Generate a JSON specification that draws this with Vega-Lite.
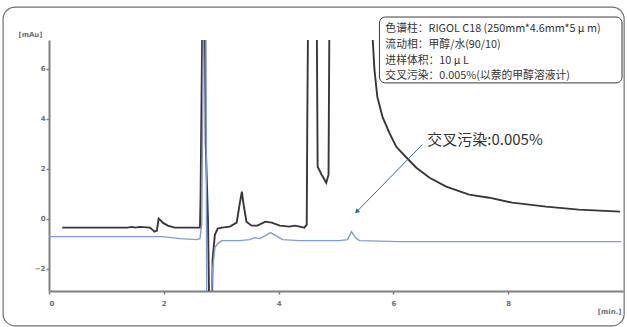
{
  "$schema": "https://vega.github.io/schema/vega-lite/v6.json",
  "width": 574,
  "height": 251,
  "autosize": {"type": "none"},
  "padding": {"left": 49, "top": 40, "right": 4, "bottom": 36},
  "background": "white",
  "config": {
    "view": {"stroke": null},
    "font": "Noto Sans CJK SC",
    "axis": {
      "grid": false,
      "domainColor": "#808080",
      "domainWidth": 2,
      "tickColor": "#808080",
      "tickWidth": 1.5,
      "tickSize": 3,
      "labelFont": "DejaVu Sans",
      "labelFontSize": 7,
      "labelFontWeight": "bold",
      "labelColor": "#707070",
      "titleFont": "DejaVu Sans",
      "titleFontSize": 7,
      "titleFontWeight": "bold",
      "titleColor": "#707070"
    }
  },
  "datasets": {
    "curves": [
      {"t": 0.23, "v": -0.36, "s": "sample"},
      {"t": 1.36, "v": -0.36, "s": "sample"},
      {"t": 1.45, "v": -0.33, "s": "sample"},
      {"t": 1.5, "v": -0.36, "s": "sample"},
      {"t": 1.58, "v": -0.33, "s": "sample"},
      {"t": 1.76, "v": -0.36, "s": "sample"},
      {"t": 1.84, "v": -0.52, "s": "sample"},
      {"t": 1.88, "v": -0.48, "s": "sample"},
      {"t": 1.91, "v": 0.0, "s": "sample"},
      {"t": 1.95, "v": -0.08, "s": "sample"},
      {"t": 1.98, "v": -0.16, "s": "sample"},
      {"t": 2.07, "v": -0.28, "s": "sample"},
      {"t": 2.19, "v": -0.36, "s": "sample"},
      {"t": 2.63, "v": -0.36, "s": "sample"},
      {"t": 2.64, "v": 0.76, "s": "sample"},
      {"t": 2.68, "v": 10, "s": "sample"},
      {"t": 2.71, "v": 10, "s": "sample"},
      {"t": 2.73, "v": 3.0, "s": "sample"},
      {"t": 2.77, "v": -0.05, "s": "sample"},
      {"t": 2.8, "v": -5, "s": "sample"},
      {"t": 2.83, "v": -5, "s": "sample"},
      {"t": 2.85, "v": -1.64, "s": "sample"},
      {"t": 2.89, "v": -0.64, "s": "sample"},
      {"t": 2.94, "v": -0.4, "s": "sample"},
      {"t": 3.01, "v": -0.36, "s": "sample"},
      {"t": 3.15, "v": -0.32, "s": "sample"},
      {"t": 3.27, "v": -0.16, "s": "sample"},
      {"t": 3.32, "v": 0.56, "s": "sample"},
      {"t": 3.36, "v": 1.08, "s": "sample"},
      {"t": 3.39, "v": 0.56, "s": "sample"},
      {"t": 3.44, "v": -0.12, "s": "sample"},
      {"t": 3.53, "v": -0.28, "s": "sample"},
      {"t": 3.63, "v": -0.28, "s": "sample"},
      {"t": 3.77, "v": -0.12, "s": "sample"},
      {"t": 3.88, "v": -0.16, "s": "sample"},
      {"t": 4.02, "v": -0.28, "s": "sample"},
      {"t": 4.19, "v": -0.32, "s": "sample"},
      {"t": 4.28, "v": -0.28, "s": "sample"},
      {"t": 4.37, "v": -0.32, "s": "sample"},
      {"t": 4.45, "v": -0.36, "s": "sample"},
      {"t": 4.49, "v": -0.24, "s": "sample"},
      {"t": 4.5, "v": 4, "s": "sample"},
      {"t": 4.52, "v": 10, "s": "sample"},
      {"t": 4.66, "v": 10, "s": "sample"},
      {"t": 4.68, "v": 2.08, "s": "sample"},
      {"t": 4.75, "v": 1.76, "s": "sample"},
      {"t": 4.83, "v": 1.44, "s": "sample"},
      {"t": 4.87, "v": 1.76, "s": "sample"},
      {"t": 4.89, "v": 10, "s": "sample"},
      {"t": 5.6, "v": 10, "s": "sample"},
      {"t": 5.64, "v": 7.16, "s": "sample"},
      {"t": 5.67, "v": 5.96, "s": "sample"},
      {"t": 5.72, "v": 4.88, "s": "sample"},
      {"t": 5.81, "v": 4.08, "s": "sample"},
      {"t": 5.93, "v": 3.44, "s": "sample"},
      {"t": 6.05, "v": 2.88, "s": "sample"},
      {"t": 6.23, "v": 2.44, "s": "sample"},
      {"t": 6.4, "v": 2.04, "s": "sample"},
      {"t": 6.63, "v": 1.64, "s": "sample"},
      {"t": 6.92, "v": 1.28, "s": "sample"},
      {"t": 7.32, "v": 0.96, "s": "sample"},
      {"t": 7.67, "v": 0.84, "s": "sample"},
      {"t": 8.07, "v": 0.64, "s": "sample"},
      {"t": 8.66, "v": 0.48, "s": "sample"},
      {"t": 9.23, "v": 0.36, "s": "sample"},
      {"t": 9.95, "v": 0.28, "s": "sample"},
      {"t": 0.0, "v": -0.72, "s": "blank"},
      {"t": 1.98, "v": -0.72, "s": "blank"},
      {"t": 2.28, "v": -0.8, "s": "blank"},
      {"t": 2.57, "v": -0.84, "s": "blank"},
      {"t": 2.63, "v": -0.8, "s": "blank"},
      {"t": 2.66, "v": -0.24, "s": "blank"},
      {"t": 2.7, "v": 10, "s": "blank"},
      {"t": 2.73, "v": 10, "s": "blank"},
      {"t": 2.75, "v": -5, "s": "blank"},
      {"t": 2.8, "v": -5, "s": "blank"},
      {"t": 2.85, "v": -2.04, "s": "blank"},
      {"t": 2.89, "v": -1.16, "s": "blank"},
      {"t": 2.94, "v": -1.0, "s": "blank"},
      {"t": 3.01, "v": -0.88, "s": "blank"},
      {"t": 3.32, "v": -0.88, "s": "blank"},
      {"t": 3.5, "v": -0.84, "s": "blank"},
      {"t": 3.58, "v": -0.76, "s": "blank"},
      {"t": 3.67, "v": -0.8, "s": "blank"},
      {"t": 3.77, "v": -0.68, "s": "blank"},
      {"t": 3.86, "v": -0.56, "s": "blank"},
      {"t": 3.95, "v": -0.68, "s": "blank"},
      {"t": 4.07, "v": -0.84, "s": "blank"},
      {"t": 4.37, "v": -0.88, "s": "blank"},
      {"t": 5.06, "v": -0.88, "s": "blank"},
      {"t": 5.2, "v": -0.84, "s": "blank"},
      {"t": 5.27, "v": -0.52, "s": "blank"},
      {"t": 5.34, "v": -0.76, "s": "blank"},
      {"t": 5.41, "v": -0.88, "s": "blank"},
      {"t": 6.1, "v": -0.92, "s": "blank"},
      {"t": 9.97, "v": -0.92, "s": "blank"}
    ],
    "frame": [{"x1": -0.8, "x2": 10.02, "y1": 8.48, "y2": -4.3}],
    "box": [{"x1": 5.757, "x2": 9.983, "y1": 8.08, "y2": 5.44}],
    "boxtext": [
      {"tx": 5.86, "ty": 7.6, "label": "色谱柱：RIGOL C18 (250mm*4.6mm*5 μ m)"},
      {"tx": 5.86, "ty": 6.96, "label": "流动相：甲醇/水(90/10)"},
      {"tx": 5.86, "ty": 6.32, "label": "进样体积：10  μ L"},
      {"tx": 5.86, "ty": 5.72, "label": "交叉污染：0.005%(以萘的甲醇溶液计)"}
    ],
    "note": [{"tx": 6.59, "ty": 3.16, "label": "交叉污染:0.005%"}],
    "arrow": [{"ax": 6.5, "ay": 2.96, "bx": 5.37, "by": 0.3}]
  },
  "layer": [
    {
      "data": {"name": "frame"},
      "mark": {"type": "rect", "clip": false, "fill": null, "stroke": "#6e6e6e", "strokeWidth": 1.2, "cornerRadius": 12},
      "encoding": {
        "x": {"field": "x1", "type": "quantitative", "scale": {"domain": [0, 10], "nice": false, "zero": false}, "axis": {"values": [0, 2, 4, 6, 8], "format": "d", "title": "[min.]", "titleX": 572, "titleY": 16, "titleAlign": "right", "labelPadding": 5}},
        "x2": {"field": "x2"},
        "y": {"field": "y1", "type": "quantitative", "scale": {"domain": [-2.9, 7.16], "nice": false, "zero": false}, "axis": {"values": [-2, 0, 2, 4, 6], "format": "d", "title": "[mAu]", "titleAngle": 0, "titleX": -19, "titleY": -3, "titleAlign": "center", "labelPadding": 1}},
        "y2": {"field": "y2"}
      }
    },
    {
      "data": {"name": "curves"},
      "mark": {"type": "line", "clip": true, "interpolate": "linear"},
      "encoding": {
        "x": {"field": "t", "type": "quantitative"},
        "y": {"field": "v", "type": "quantitative"},
        "detail": {"field": "s"},
        "color": {"field": "s", "type": "nominal", "scale": {"domain": ["blank", "sample"], "range": ["#7f9bd9", "#3a3636"]}, "legend": null},
        "strokeWidth": {"field": "s", "type": "nominal", "scale": {"domain": ["blank", "sample"], "range": [1.4, 1.9]}, "legend": null},
        "order": {"field": "t", "type": "quantitative"}
      }
    },
    {
      "data": {"name": "box"},
      "mark": {"type": "rect", "clip": false, "fill": "white", "stroke": "#3a3a3a", "strokeWidth": 1, "cornerRadius": 6},
      "encoding": {
        "x": {"field": "x1", "type": "quantitative"},
        "x2": {"field": "x2"},
        "y": {"field": "y1", "type": "quantitative"},
        "y2": {"field": "y2"}
      }
    },
    {
      "data": {"name": "boxtext"},
      "mark": {"type": "text", "clip": false, "align": "left", "baseline": "middle", "fontSize": 10.8, "color": "#333333"},
      "encoding": {
        "x": {"field": "tx", "type": "quantitative"},
        "y": {"field": "ty", "type": "quantitative"},
        "text": {"field": "label"}
      }
    },
    {
      "data": {"name": "note"},
      "mark": {"type": "text", "clip": false, "align": "left", "baseline": "middle", "fontSize": 15, "color": "#333333"},
      "encoding": {
        "x": {"field": "tx", "type": "quantitative"},
        "y": {"field": "ty", "type": "quantitative"},
        "text": {"field": "label"}
      }
    },
    {
      "data": {"name": "arrow"},
      "mark": {"type": "rule", "clip": false, "color": "#2d6e8a", "strokeWidth": 1},
      "encoding": {
        "x": {"field": "ax", "type": "quantitative"},
        "y": {"field": "ay", "type": "quantitative"},
        "x2": {"field": "bx"},
        "y2": {"field": "by"}
      }
    },
    {
      "data": {"name": "arrow"},
      "mark": {"type": "point", "clip": false, "shape": "triangle", "filled": true, "size": 28, "angle": 227, "color": "#2d6e8a", "opacity": 1},
      "encoding": {
        "x": {"field": "bx", "type": "quantitative"},
        "y": {"field": "by", "type": "quantitative"}
      }
    }
  ]
}
